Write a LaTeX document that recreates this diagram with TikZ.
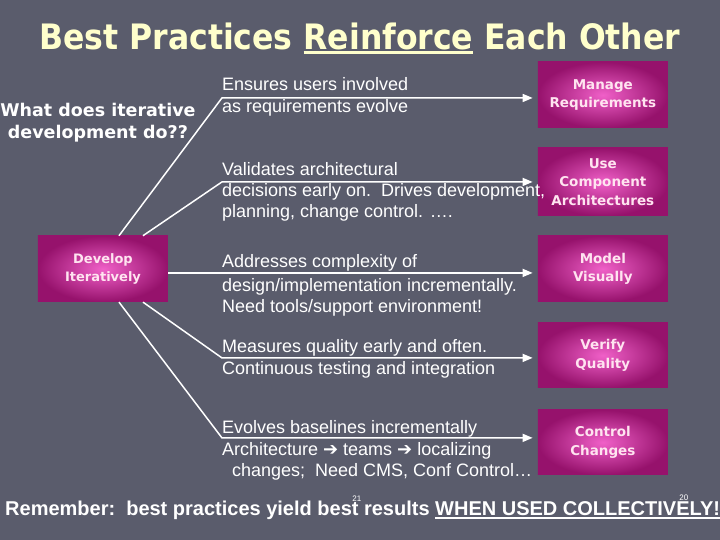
\documentclass[tikz,border=0pt]{standalone}
\usepackage{fontspec}
\setmainfont{Liberation Sans}
\newfontfamily\boxfont{DejaVu Sans}
\newfontfamily\titlefont{DejaVu Sans Condensed}
\usetikzlibrary{arrows.meta, calc}
\definecolor{slidebg}{RGB}{90,92,108}
\definecolor{titleyellow}{RGB}{255,255,204}
\definecolor{boxpink}{RGB}{240,96,200}
\definecolor{boxdark}{RGB}{150,18,108}
\definecolor{boxtext}{RGB}{255,228,240}

% thick underline: depth, thickness, text
\newcommand{\barunder}[3]{\setbox0=\hbox{#3}\rlap{\rule[-#1]{\wd0}{#2}}\box0\relax}

\begin{document}
\begin{tikzpicture}[
    x=1pt, y=-1pt,
    practice/.style={
        rectangle,
        inner color=boxpink,
        outer color=boxdark,
        minimum width=130pt,
        minimum height=66pt,
        align=center,
        text=boxtext,
        font=\boxfont\bfseries\fontsize{13.5}{18.5}\selectfont
    },
    link/.style={
        white,
        line width=1.5pt,
        shorten >=5pt,
        -{Triangle[length=10pt,width=8pt]}
    },
    note/.style={
        inner sep=0pt,
        align=left,
        text=white,
        font=\fontsize{18}{21}\selectfont
    },
    pagenum/.style={
        inner sep=0pt,
        text=white,
        font=\fontsize{8}{9}\selectfont
    }
]

        % slide background
        \fill[slidebg] (0,0) rectangle (720,540);

        \node[
            anchor=base,
            inner sep=0pt,
            text=titleyellow,
            font=\titlefont\bfseries\fontsize{35}{40}\selectfont
        ]
        (title) at (360,50)
        {Best Practices \barunder{4pt}{2.5pt}{Reinforce} Each Other};

        \node[
            align=center,
            inner sep=0pt,
            text=white,
            font=\boxfont\bfseries\fontsize{17.5}{22}\selectfont
        ]
        (ask) at (98,123)
        {What does iterative\\development do??};

        % practice boxes
        \node[practice] (mr) at (603,95) {Manage\\Requirements};
        \node[practice, minimum height=68pt] (uca) at (603,182) {Use\\Component\\Architectures};
        \node[practice] (mv) at (603,269) {Model\\Visually};
        \node[practice, minimum height=65pt] (vq) at (603,355.5) {Verify\\Quality};
        \node[practice, minimum height=65pt] (cc) at (603,442.5) {Control\\Changes};
        \node[practice, font=\boxfont\bfseries\fontsize{13}{18}\selectfont] (dev) at (103,269) {Develop\\Iteratively};

        % knees of the connectors
        \coordinate (k1) at (222,98);
        \coordinate (k2) at (222,182);
        \coordinate (k3) at (222,273);
        \coordinate (k4) at (222,358);
        \coordinate (k5) at (222,438);

        \draw[link] ([xshift=16pt]dev.north) -- (k1) -- (k1 -| mr.west);
        \draw[link] ([xshift=40pt]dev.north) -- (k2) -- (k2 -| uca.west);
        \draw[link] (dev.east |- k3) -- (k3 -| mv.west);
        \draw[link] ([xshift=40pt]dev.south) -- (k4) -- (k4 -| vq.west);
        \draw[link] ([xshift=16pt]dev.south) -- (k5) -- (k5 -| cc.west);

        % texts on the connectors
        \node[note, anchor=base west] (n1a) at ([yshift=7.5pt]k1) {Ensures users involved};
        \node[note, anchor=north west] (n1b) at ([yshift=-1.5pt]k1) {as requirements evolve};

        \node[note, anchor=base west] (n2a) at ([yshift=6.5pt]k2) {Validates architectural};
        \node[note, anchor=north west] (n2b) at ([yshift=-1.5pt]k2)
        {decisions early on.\ \ Drives development,\\planning, change control. ….};

        \node[note, anchor=base west] (n3a) at ([yshift=5pt]k3) {Addresses complexity of};
        \node[note, anchor=north west] (n3b) at ([yshift=-5pt]k3)
        {design/implementation incrementally.\\Need tools/support environment!};

        \node[note, anchor=base west] (n4a) at ([yshift=5pt]k4) {Measures quality early and often.};
        \node[note, anchor=north west] (n4b) at ([yshift=-3.5pt]k4) {Continuous testing and integration};

        \node[note, anchor=base west] (n5a) at ([yshift=4pt]k5) {Evolves baselines incrementally};
        \node[note, anchor=north west] (n5b) at ([yshift=-4.5pt]k5)
        {Architecture {\boxfont\bfseries ➔} teams {\boxfont\bfseries ➔} localizing\\
         \hspace*{10pt}changes;\ \ Need CMS, Conf Control…};

        % closing line
        \node[
            anchor=base west,
            inner sep=0pt,
            text=white,
            font=\bfseries\fontsize{20}{22}\selectfont
        ]
        (remember) at (5,516)
        {Remember:\ \ best practices yield best results \barunder{3pt}{1.6pt}{WHEN USED COLLECTIVELY!}};

        \node[pagenum] (p21) at (357,499) {21};
        \node[pagenum] (p20) at (684,498) {20};

    \end{tikzpicture}
\end{document}
